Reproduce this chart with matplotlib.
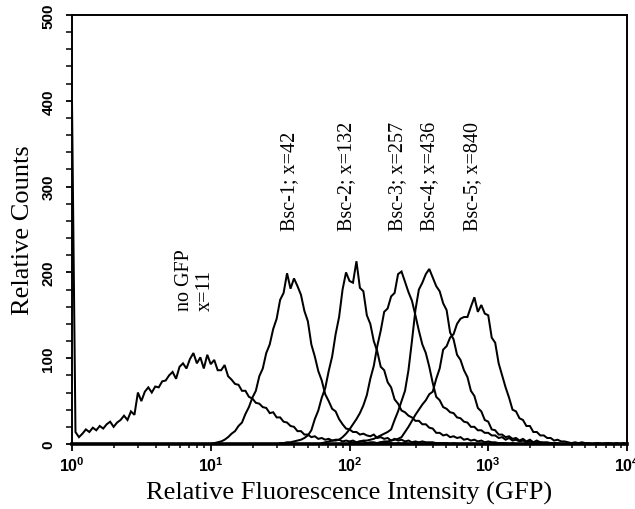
import numpy as np
import matplotlib
matplotlib.use("Agg")
import matplotlib.pyplot as plt
from matplotlib.ticker import FixedLocator, LogLocator, NullFormatter, FixedFormatter

plt.rcParams['mathtext.fontset'] = 'custom'
plt.rcParams['mathtext.bf'] = 'Liberation Sans:bold'
plt.rcParams['mathtext.rm'] = 'Liberation Sans:bold'

# ---- data: histogram counts on a log channel grid (step in decades) ----
log_step = 0.025

no_gfp_start = 0.0
no_gfp_counts = [398, 14, 8, 12, 17, 14, 19, 16, 21, 18, 23, 26, 20, 25, 28, 33, 28, 38, 34, 60,
                 50, 61, 66, 60, 67, 66, 73, 74, 80, 84, 76, 90, 94, 88, 99, 106, 94, 101, 88, 104,
                 93, 98, 86, 86, 92, 79, 75, 70, 69, 62, 62, 55, 53, 48, 47, 43, 42, 36, 37, 31,
                 31, 26, 25, 21, 20, 15, 15, 11, 11, 8, 9, 6, 7, 5, 6, 4, 5, 5, 3, 4,
                 3, 4, 2, 3, 3, 1, 2, 2, 1, 2, 1, 1, 1, 0, 1, 0, 1, 0, 0, 1, 0]

bsc1_start = 1.0
bsc1_counts = [0, 1, 2, 3, 5, 8, 12, 15, 21, 25, 35, 43, 54, 62, 79, 88, 106, 116, 134, 146,
               168, 176, 199, 181, 193, 184, 174, 155, 143, 116, 102, 85, 74, 58, 50, 41, 38, 29, 23, 18,
               17, 14, 14, 11, 12, 10, 9, 11, 7, 8, 6, 7, 4, 6, 4, 5, 3, 4, 2, 3,
               2, 3, 2, 2, 2, 1, 1, 1, 1, 0, 1, 0, 0]

bsc2_start = 1.5
bsc2_counts = [1, 1, 2, 2, 3, 4, 5, 7, 10, 16, 29, 39, 54, 65, 85, 102, 128, 148, 180, 200,
               190, 188, 213, 182, 178, 150, 140, 120, 108, 90, 86, 72, 66, 52, 47, 39, 37, 33, 31, 27,
               27, 23, 23, 19, 18, 13, 13, 10, 11, 8, 9, 7, 8, 5, 6, 4, 5, 3, 4, 2,
               3, 2, 2, 1, 1, 1, 0, 1, 0]

bsc3_start = 1.8
bsc3_counts = [1, 2, 3, 4, 4, 5, 8, 12, 17, 23, 29, 36, 45, 57, 76, 91, 114, 132, 154, 158,
               172, 176, 198, 201, 189, 177, 167, 150, 132, 116, 106, 90, 71, 55, 51, 43, 41, 37, 36, 31,
               30, 26, 25, 20, 20, 16, 16, 13, 13, 10, 10, 7, 8, 5, 7, 4, 5, 3, 4, 2,
               3, 2, 2, 2, 1, 1, 1, 1, 0]

bsc4_start = 2.0
bsc4_counts = [1, 2, 2, 3, 4, 4, 5, 6, 8, 10, 12, 14, 17, 28, 38, 50, 62, 86, 120, 156,
               180, 188, 198, 204, 194, 184, 178, 164, 156, 130, 122, 104, 98, 86, 78, 62, 56, 42, 38, 28,
               26, 17, 16, 11, 11, 8, 9, 6, 7, 4, 6, 3, 5, 2, 4, 2, 2, 2, 1, 1,
               1, 0]

bsc5_start = 2.2
bsc5_counts = [1, 2, 3, 3, 4, 5, 6, 8, 14, 20, 27, 34, 40, 46, 51, 58, 61, 76, 88, 110,
               114, 124, 128, 140, 146, 148, 148, 160, 171, 154, 162, 152, 150, 124, 118, 94, 80, 66, 54, 40,
               38, 30, 28, 21, 21, 14, 14, 10, 10, 7, 7, 4, 5, 3, 3, 2, 1, 2, 1, 2,
               1, 1, 0, 1, 1, 0, 1, 1, 0, 1, 0, 1, 0]

curves = [(no_gfp_start, no_gfp_counts), (bsc1_start, bsc1_counts), (bsc2_start, bsc2_counts),
          (bsc3_start, bsc3_counts), (bsc4_start, bsc4_counts), (bsc5_start, bsc5_counts)]

labels = ["no GFP\nx=11", "Bsc-1; x=42", "Bsc-2; x=132", "Bsc-3; x=257", "Bsc-4; x=436", "Bsc-5; x=840"]
label_x = [7.7, 37, 95, 221, 377, 767]
label_y = [156, 249, 249, 249, 249, 249]

y_ticks = [0, 100, 200, 300, 400, 500]
x_ticks = [1, 10, 100, 1000, 10000]
x_tick_labels = [r'$\mathbf{10^{0}}$', r'$\mathbf{10^{1}}$', r'$\mathbf{10^{2}}$',
                 r'$\mathbf{10^{3}}$', r'$\mathbf{10^{4}}$']

# ---- figure ----
fig = plt.figure(figsize=(6.35, 5.1), dpi=100)
ax = fig.add_axes([72 / 635, 65 / 510, 555 / 635, 429 / 510])

for start, counts in curves:
    counts = np.asarray(counts, dtype=float)
    xs = 10 ** (start + log_step * np.arange(len(counts)))
    ax.plot(xs, counts, color='black', lw=1.45, solid_joinstyle='miter')

ax.set_xscale('log')
ax.set_xlim(1, 10000)
ax.set_ylim(0, 500)

ax.xaxis.set_major_locator(FixedLocator(x_ticks))
ax.xaxis.set_major_formatter(FixedFormatter(x_tick_labels))
ax.xaxis.set_minor_locator(LogLocator(base=10, subs=np.arange(2, 10)))
ax.xaxis.set_minor_formatter(NullFormatter())

ax.yaxis.set_major_locator(FixedLocator(y_ticks))
ax.yaxis.set_minor_locator(FixedLocator(np.arange(0, 501, 20)))

ax.tick_params(axis='x', which='major', direction='out', length=5, width=1.3, pad=3, labelsize=11.5)
ax.tick_params(axis='x', which='minor', direction='out', length=3, width=1.1)
ax.tick_params(axis='y', which='major', direction='out', length=4, width=1.3, pad=8, labelsize=11)
ax.tick_params(axis='y', which='minor', direction='out', length=4, width=1.1)

for lab in ax.get_yticklabels():
    lab.set_rotation(90)
    lab.set_va('center')
    lab.set_fontfamily('Liberation Sans')
    lab.set_fontweight('bold')

for side in ['top', 'right', 'left']:
    ax.spines[side].set_linewidth(1.4)
ax.spines['bottom'].set_linewidth(2.6)

ax.set_xlabel('Relative Fluorescence Intensity (GFP)', family='Liberation Serif', fontsize=19, labelpad=5)
ax.set_ylabel('Relative Counts', family='Liberation Serif', fontsize=19, labelpad=5)

for txt, lx, ly in zip(labels, label_x, label_y):
    ax.text(lx, ly, txt, rotation=90, ha='center', va='bottom', multialignment='left',
            family='Liberation Serif', fontsize=14.5, linespacing=1.15)

fig.savefig('out.png', dpi=100)
